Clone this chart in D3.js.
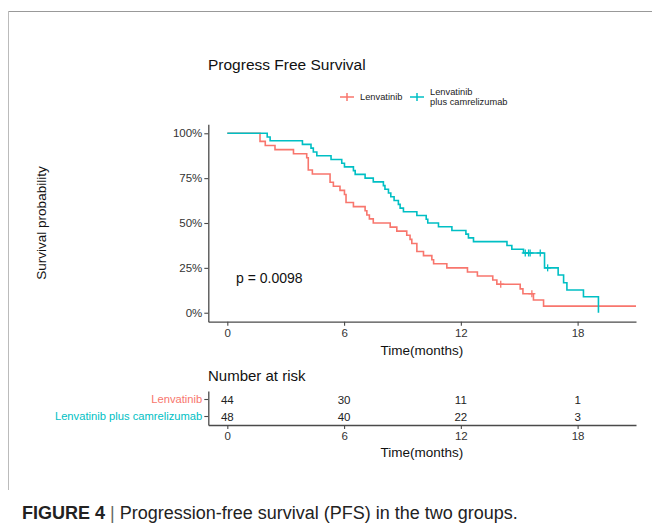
<!DOCTYPE html>
<html>
<head>
<meta charset="utf-8">
<script src="https://cdn.jsdelivr.net/npm/d3@7"></script>
<style>
  html, body { margin: 0; padding: 0; background: #fff; }
  svg { display: block; font-family: "Liberation Sans", Arial, sans-serif; }
</style>
</head>
<body>
<svg id="chart" width="652" height="525"></svg>
<script>
// ---------------- data ----------------
const groups = ["Lenvatinib", "Lenvatinib plus camrelizumab"];
const groupColors = ["#F8766D", "#00BFC4"];

// Lenvatinib (n = 44): step times (months) and survival after each step
const lenvTimes = [0, 1.68, 1.95, 2.45, 3.4, 4.08, 4.16, 4.37, 5.28, 5.45, 5.79, 6.02, 6.1, 6.48,
  7.08, 7.17, 7.3, 7.5, 8.37, 8.71, 9.22, 9.39, 9.48, 9.74, 10.08, 10.51, 10.6, 11.28,
  12.34, 12.85, 13.64, 13.85, 15.05, 15.19, 15.73, 16.25, 21.0];
const lenvSurv = [1, 0.955, 0.932, 0.909, 0.886, 0.864, 0.795, 0.773, 0.727, 0.705, 0.682, 0.659, 0.614, 0.591,
  0.568, 0.545, 0.523, 0.5, 0.477, 0.455, 0.432, 0.409, 0.386, 0.341, 0.318, 0.295, 0.273, 0.25,
  0.227, 0.205, 0.182, 0.159, 0.133, 0.106, 0.071, 0.037, 0.037];
const lenvCensorTimes = [14.05, 15.65];
const lenvCensorSurv = [0.159, 0.106];

// Lenvatinib plus camrelizumab (n = 48)
const combTimes = [0, 2.05, 2.2, 3.86, 4.3, 4.42, 4.6, 5.33, 5.88, 6.02, 6.48, 6.57, 7.08, 7.5,
  8.02, 8.1, 8.28, 8.4, 8.57, 8.79, 8.88, 9.05, 9.74, 10.22, 10.3, 10.85, 11.54, 12.26,
  12.39, 12.65, 14.37, 14.62, 15.22, 16.3, 17.0, 17.28, 17.45, 18.3, 19.07];
const combSurv = [1, 0.979, 0.958, 0.938, 0.917, 0.896, 0.875, 0.854, 0.833, 0.813, 0.792, 0.771, 0.75, 0.729,
  0.708, 0.688, 0.667, 0.646, 0.625, 0.604, 0.583, 0.563, 0.542, 0.521, 0.5, 0.479, 0.458, 0.438,
  0.417, 0.396, 0.375, 0.354, 0.333, 0.25, 0.21, 0.167, 0.127, 0.089, 0];
const combCensorTimes = [15.31, 15.48, 15.56, 16.08, 16.46];
const combCensorSurv = [0.333, 0.333, 0.333, 0.333, 0.25];

const xTicks = [0, 6, 12, 18];
const yTicks = [0, 0.25, 0.5, 0.75, 1];
const riskLenv = [44, 30, 11, 1];
const riskComb = [48, 40, 22, 3];

const titleText = "Progress Free Survival";
const pValueText = "p = 0.0098";
const xTitle = "Time(months)";
const yTitle = "Survival probability";
const riskTitle = "Number at risk";
const captionBold = "FIGURE 4";
const captionRest = "Progression-free survival (PFS) in the two groups.";

// ---------------- drawing ----------------
const svg = d3.select("#chart");
const axisColor = "#4a4a4a";
const textColor = "#333";

// frame
svg.append("line").attr("x1", 8).attr("x2", 652).attr("y1", 11.5).attr("y2", 11.5)
  .attr("stroke", "#999").attr("stroke-width", 1);
svg.append("line").attr("x1", 8.5).attr("x2", 8.5).attr("y1", 11).attr("y2", 490)
  .attr("stroke", "#bbb").attr("stroke-width", 1);

const x = d3.scaleLinear().domain([-0.977, 21.0]).range([208.3, 636]);
const y = d3.scaleLinear().domain([-0.05, 1.05]).range([321.7, 124.3]);

// title
svg.append("text").attr("x", 208).attr("y", 70).attr("font-size", 15.5).attr("fill", "#111")
  .text(titleText);

// legend
const legendItems = [
  { x: 340, label: ["Lenvatinib"], color: groupColors[0] },
  { x: 410, label: ["Lenvatinib", "plus camrelizumab"], color: groupColors[1] }
];
legendItems.forEach(it => {
  const g = svg.append("g");
  g.append("line").attr("x1", it.x).attr("x2", it.x + 14).attr("y1", 97).attr("y2", 97)
    .attr("stroke", it.color).attr("stroke-width", 1.5);
  g.append("line").attr("x1", it.x + 7).attr("x2", it.x + 7).attr("y1", 93).attr("y2", 101)
    .attr("stroke", it.color).attr("stroke-width", 1.5);
  const t = g.append("text").attr("x", it.x + 20).attr("font-size", 9.3).attr("fill", "#222");
  if (it.label.length === 1) {
    t.attr("y", 97).attr("dominant-baseline", "central").text(it.label[0]);
  } else {
    t.append("tspan").attr("x", it.x + 20).attr("y", 91.5).attr("dominant-baseline", "central").text(it.label[0]);
    t.append("tspan").attr("x", it.x + 20).attr("y", 102.3).attr("dominant-baseline", "central").text(it.label[1]);
  }
});

// axes
const yAxis = d3.axisLeft(y).tickValues(yTicks).tickFormat(d3.format(".0%")).tickSize(4).tickPadding(2).tickSizeOuter(0);
const gy = svg.append("g").attr("transform", "translate(208.3,0)").call(yAxis);
const xAxis = d3.axisBottom(x).tickValues(xTicks).tickSize(4).tickPadding(3).tickSizeOuter(0);
const gx = svg.append("g").attr("transform", "translate(0,321.7)").call(xAxis);
[gx, gy].forEach(g => {
  g.select(".domain").attr("stroke", axisColor).attr("stroke-width", 1.3);
  g.selectAll(".tick line").attr("stroke", axisColor).attr("stroke-width", 1.1);
  g.selectAll(".tick text").attr("font-size", 11.5).attr("fill", textColor)
    .attr("font-family", "Liberation Sans, Arial, sans-serif");
});

svg.append("text").attr("x", 422).attr("y", 355).attr("text-anchor", "middle")
  .attr("font-size", 13.5).attr("fill", "#111").text(xTitle);
svg.append("text").attr("transform", "translate(41,223) rotate(-90)")
  .attr("text-anchor", "middle").attr("dominant-baseline", "central")
  .attr("font-size", 13.5).attr("fill", "#111").text(yTitle);

// curves
const line = d3.line().x(d => x(d[0])).y(d => y(d[1])).curve(d3.curveStepAfter);
const series = [
  { t: lenvTimes, s: lenvSurv, ct: lenvCensorTimes, cs: lenvCensorSurv, color: groupColors[0] },
  { t: combTimes, s: combSurv, ct: combCensorTimes, cs: combCensorSurv, color: groupColors[1] }
];
series.forEach(se => {
  const pts = se.t.map((t, i) => [t, se.s[i]]);
  svg.append("path").datum(pts).attr("d", line).attr("fill", "none")
    .attr("stroke", se.color).attr("stroke-width", 1.6);
  const cg = svg.append("g").attr("stroke", se.color).attr("stroke-width", 1.3);
  se.ct.forEach((t, i) => {
    const cx = x(t), cy = y(se.cs[i]);
    cg.append("line").attr("x1", cx - 3.5).attr("x2", cx + 3.5).attr("y1", cy).attr("y2", cy);
    cg.append("line").attr("x1", cx).attr("x2", cx).attr("y1", cy - 3.5).attr("y2", cy + 3.5);
  });
});

// p value
svg.append("text").attr("x", x(0.45)).attr("y", y(0.195)).attr("dominant-baseline", "central")
  .attr("font-size", 14).attr("fill", "#111").text(pValueText);

// ---------------- risk table ----------------
svg.append("text").attr("x", 208).attr("y", 381).attr("font-size", 15).attr("fill", "#111").text(riskTitle);

const yr = d3.scaleBand().domain(groups).range([391, 425]);
const yrAxis = d3.axisLeft(yr).tickSize(4).tickPadding(2).tickSizeOuter(0);
const gyr = svg.append("g").attr("transform", "translate(208.3,0)").call(yrAxis);
const xrAxis = d3.axisBottom(x).tickValues(xTicks).tickSize(4).tickPadding(3).tickSizeOuter(0);
const gxr = svg.append("g").attr("transform", "translate(0,425)").call(xrAxis);
[gxr, gyr].forEach(g => {
  g.select(".domain").attr("stroke", axisColor).attr("stroke-width", 1.3);
  g.selectAll(".tick line").attr("stroke", axisColor).attr("stroke-width", 1.1);
  g.selectAll(".tick text").attr("font-family", "Liberation Sans, Arial, sans-serif");
});
gxr.selectAll(".tick text").attr("font-size", 11.5).attr("fill", textColor);
gyr.selectAll(".tick text").attr("font-size", 11.2).attr("fill", (d, i) => groupColors[i]);

[riskLenv, riskComb].forEach((row, gi) => {
  svg.append("g").selectAll("text").data(row).join("text")
    .attr("x", (d, i) => x(xTicks[i])).attr("y", yr(groups[gi]) + yr.bandwidth() / 2)
    .attr("text-anchor", "middle").attr("dominant-baseline", "central")
    .attr("font-size", 11.5).attr("fill", "#222").text(d => d);
});

svg.append("text").attr("x", 422).attr("y", 457).attr("text-anchor", "middle")
  .attr("font-size", 13.5).attr("fill", "#111").text(xTitle);

// caption
const cap = svg.append("text").attr("x", 22).attr("y", 518.5).attr("font-size", 18).attr("fill", "#222");
cap.append("tspan").attr("font-weight", "bold").text(captionBold);
cap.append("tspan").attr("fill", "#666").text(" | ");
cap.append("tspan").text(captionRest);
</script>
</body>
</html>
